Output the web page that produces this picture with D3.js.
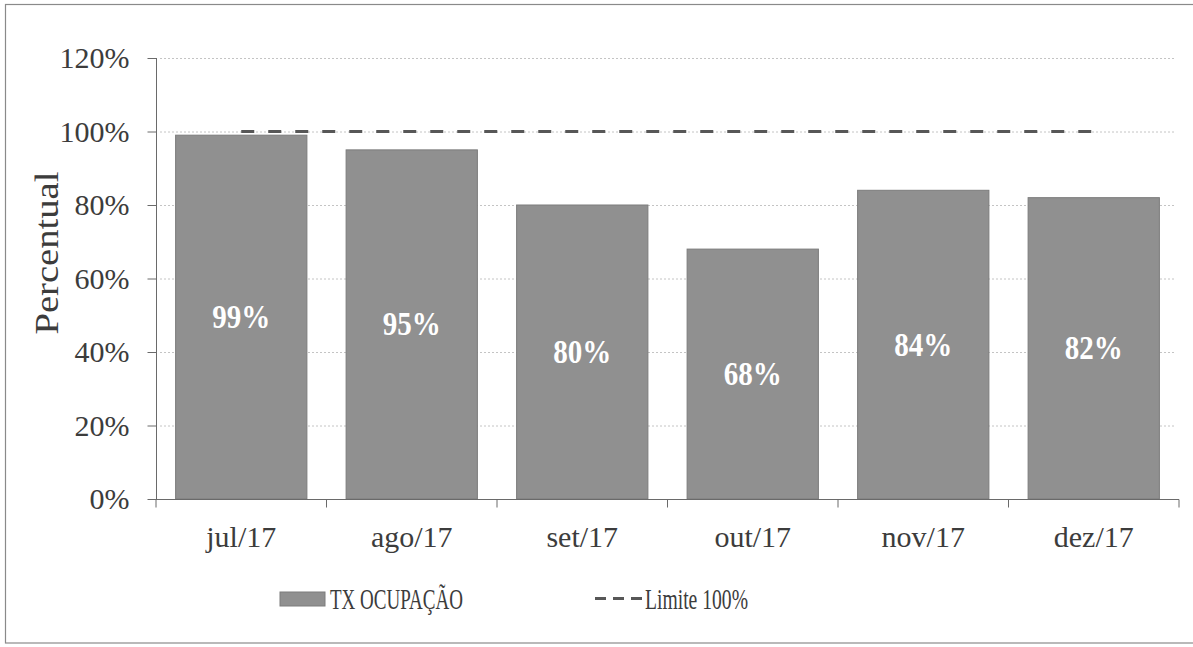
<!DOCTYPE html>
<html>
<head>
<meta charset="utf-8">
<script src="https://cdn.jsdelivr.net/npm/d3@7"></script>
<style>
  html, body { margin: 0; padding: 0; background: #fff; }
  svg { display: block; }
  text { font-family: "Liberation Serif", "Times New Roman", serif; fill: #3c3c3c; }
</style>
</head>
<body>
<svg id="chart" width="1193" height="647"></svg>
<script>
// Monthly occupancy rate, second half of 2017
const months = ["jul/17", "ago/17", "set/17", "out/17", "nov/17", "dez/17"];
const occupancy = [0.99, 0.95, 0.80, 0.68, 0.84, 0.82];
const limitValue = 1.0;
const yTicks = [0, 0.2, 0.4, 0.6, 0.8, 1.0, 1.2];
const seriesNames = ["TX OCUPAÇÃO", "Limite 100%"];
const yTitle = "Percentual";

const svg = d3.select("#chart");
const W = 1193, H = 647;
const plot = { left: 156, right: 1179, top: 58, bottom: 499 };

const barColor = "#909090";
const lineColor = "#575757";
const pct = d3.format(".0%");

// frame (right edge runs off the page)
svg.append("rect")
  .attr("x", 5.5).attr("y", 4.5)
  .attr("width", W + 10).attr("height", 638.5)
  .attr("fill", "none").attr("stroke", "#8a8a8a").attr("stroke-width", 1.2);

const x = d3.scaleBand()
  .domain(months)
  .range([plot.left, plot.right])
  .paddingInner(0.23)
  .paddingOuter(0.115);

const y = d3.scaleLinear()
  .domain([0, 1.2])
  .range([plot.bottom, plot.top]);

// dotted gridlines
svg.append("g")
  .selectAll("line")
  .data(yTicks.slice(1))
  .join("line")
  .attr("x1", plot.left + 4).attr("x2", plot.right - 4)
  .attr("y1", d => y(d) + 0.5).attr("y2", d => y(d) + 0.5)
  .attr("stroke", "#c4c4c4").attr("stroke-width", 1)
  .attr("stroke-dasharray", "2,2");

// bars
svg.append("g")
  .selectAll("rect")
  .data(occupancy)
  .join("rect")
  .attr("x", (d, i) => x(months[i]))
  .attr("y", d => y(d))
  .attr("width", x.bandwidth())
  .attr("height", d => y(0) - y(d))
  .attr("fill", barColor)
  .attr("stroke", "#7c7c7c").attr("stroke-width", 1);

// value labels inside the bars
svg.append("g")
  .selectAll("text")
  .data(occupancy)
  .join("text")
  .attr("x", (d, i) => x(months[i]) + x.bandwidth() / 2)
  .attr("y", d => (y(d) + y(0)) / 2)
  .attr("text-anchor", "middle")
  .attr("dominant-baseline", "central")
  .attr("textLength", 58)
  .attr("lengthAdjust", "spacingAndGlyphs")
  .style("font-size", "33px")
  .style("font-weight", "bold")
  .style("fill", "#ffffff")
  .text(d => pct(d));

// 100% limit line, from first to last category centre
const lineData = months.map(m => ({ m, v: limitValue }));
svg.append("path")
  .datum(lineData)
  .attr("d", d3.line()
    .x(d => x(d.m) + x.bandwidth() / 2)
    .y(d => y(d.v)))
  .attr("fill", "none")
  .attr("stroke", lineColor)
  .attr("stroke-width", 3)
  .attr("stroke-dasharray", "13,14");

// y axis
const yAxis = svg.append("g")
  .attr("transform", `translate(${plot.left + 0.5},0)`)
  .call(d3.axisLeft(y).tickValues(yTicks).tickFormat(pct).tickSize(9).tickPadding(18));
yAxis.select(".domain").attr("stroke", "#6a6a6a").attr("d", `M-0,${plot.top}V${plot.bottom}`);
yAxis.selectAll(".tick line").attr("stroke", "#6a6a6a");
yAxis.selectAll(".tick text")
  .style("font-size", "30px")
  .style("font-family", "'Liberation Serif', serif")
  .attr("fill", "#3c3c3c");

// x axis with ticks at category boundaries
const xAxisG = svg.append("g").attr("transform", `translate(0,${plot.bottom + 0.5})`);
xAxisG.append("line")
  .attr("x1", plot.left).attr("x2", plot.right)
  .attr("stroke", "#6a6a6a");
const bounds = months.map(m => x(m) - x.step() * x.paddingInner() / 2).concat([plot.right]);
xAxisG.selectAll("line.b")
  .data(bounds)
  .join("line").attr("class", "b")
  .attr("x1", d => d).attr("x2", d => d)
  .attr("y1", 0).attr("y2", 8)
  .attr("stroke", "#6a6a6a");
xAxisG.selectAll("text")
  .data(months)
  .join("text")
  .attr("x", d => x(d) + x.bandwidth() / 2)
  .attr("y", 47)
  .attr("text-anchor", "middle")
  .style("font-size", "30px")
  .text(d => d);

// y axis title
svg.append("text")
  .attr("transform", `translate(58,253) rotate(-90)`)
  .attr("text-anchor", "middle")
  .attr("textLength", 163)
  .attr("lengthAdjust", "spacingAndGlyphs")
  .style("font-size", "33px")
  .text(yTitle);

// legend
const legend = svg.append("g");
legend.append("rect")
  .attr("x", 280).attr("y", 592)
  .attr("width", 45).attr("height", 14)
  .attr("fill", barColor).attr("stroke", "#7c7c7c");
legend.append("text")
  .attr("x", 330).attr("y", 609)
  .attr("textLength", 133)
  .attr("lengthAdjust", "spacingAndGlyphs")
  .style("font-size", "30px")
  .text(seriesNames[0]);
legend.append("line")
  .attr("x1", 595).attr("x2", 643)
  .attr("y1", 598.5).attr("y2", 598.5)
  .attr("stroke", lineColor).attr("stroke-width", 3)
  .attr("stroke-dasharray", "11,7");
legend.append("text")
  .attr("x", 645).attr("y", 609)
  .attr("textLength", 103)
  .attr("lengthAdjust", "spacingAndGlyphs")
  .style("font-size", "30px")
  .text(seriesNames[1]);
</script>
</body>
</html>
